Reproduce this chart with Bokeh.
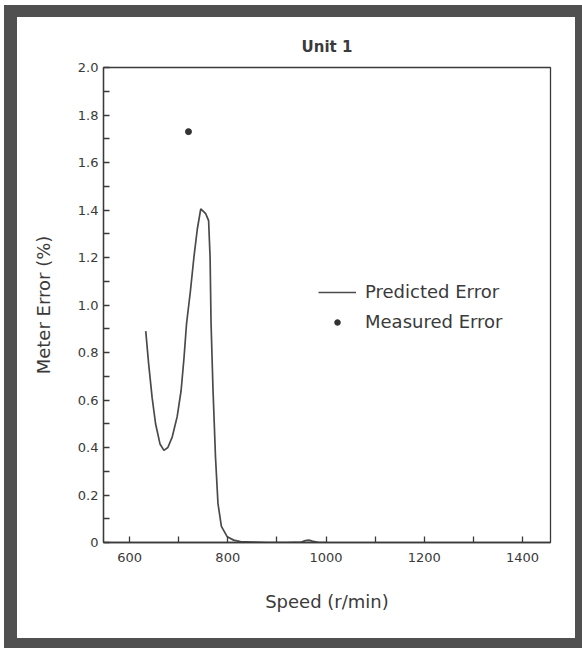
from bokeh.plotting import figure
from bokeh.models import Range1d, FixedTicker, Legend, LegendItem
from bokeh.embed import file_html
from bokeh.resources import INLINE

# ---- data ----
speed = [633, 639, 646, 653, 662, 670, 678, 687, 697, 705, 711, 716, 724, 731,
         738, 745, 755, 761, 764, 766, 770, 775, 780, 787, 799, 812, 826, 850,
         880, 920, 950, 958, 965, 972, 985, 1000]
predicted = [0.89, 0.75, 0.61, 0.50, 0.415, 0.388, 0.40, 0.445, 0.53, 0.64, 0.78,
             0.92, 1.06, 1.20, 1.32, 1.405, 1.385, 1.355, 1.20, 0.92, 0.64, 0.36,
             0.165, 0.068, 0.024, 0.010, 0.004, 0.002, 0.0, 0.0, 0.002, 0.008,
             0.010, 0.006, 0.0, 0.0]
measured_speed = [720]
measured_error = [1.73]

x_major = [600, 800, 1000, 1200, 1400]
x_minor = [700, 900, 1100, 1300]
y_major = [0.0, 0.2, 0.4, 0.6, 0.8, 1.0, 1.2, 1.4, 1.6, 1.8, 2.0]
y_minor = [0.1, 0.3, 0.5, 0.7, 0.9, 1.1, 1.3, 1.5, 1.7, 1.9]

title_text = "Unit 1"
x_label = "Speed (r/min)"
y_label = "Meter Error (%)"
series_names = ["Predicted Error", "Measured Error"]

FONT = "DejaVu Sans"
INK = "#3a3a3a"

p = figure(width=558, height=621, output_backend="svg", toolbar_location=None,
           x_range=Range1d(547, 1457), y_range=Range1d(0, 2.0),
           min_border_left=86, min_border_right=45, min_border_top=50,
           min_border_bottom=118, title=title_text)
p.styles = {"box-sizing": "content-box",
            "border-style": "solid", "border-color": "#505050",
            "border-width": "12px 7px 10px 13px",
            "margin-left": "4px", "margin-top": "5px"}
p.background_fill_color = "white"
p.border_fill_color = "white"
p.xgrid.visible = False
p.ygrid.visible = False
p.outline_line_color = INK
p.outline_line_width = 1.3

p.title.align = "center"
p.title.text_font = FONT
p.title.text_font_size = "15px"
p.title.text_font_style = "bold"
p.title.text_color = INK
p.title.standoff = 24

line = p.line(speed, predicted, line_color="#4a4a4a", line_width=1.7)
dots = p.scatter(measured_speed, measured_error, size=6, color="#333333")

for ax in (p.xaxis[0], p.yaxis[0]):
    ax.axis_line_color = INK
    ax.axis_line_width = 1.3
    ax.major_tick_line_color = INK
    ax.minor_tick_line_color = INK
    ax.major_tick_line_width = 1.3
    ax.minor_tick_line_width = 1.3
    ax.major_tick_in = 6
    ax.major_tick_out = 0
    ax.minor_tick_in = 6
    ax.minor_tick_out = 0
    ax.major_label_text_font = FONT
    ax.major_label_text_font_size = "13px"
    ax.major_label_text_color = INK
    ax.axis_label_text_font = FONT
    ax.axis_label_text_font_size = "18px"
    ax.axis_label_text_font_style = "normal"
    ax.axis_label_text_color = INK

p.xaxis.ticker = FixedTicker(ticks=x_major, minor_ticks=x_minor)
p.yaxis.ticker = FixedTicker(ticks=y_major, minor_ticks=y_minor)
p.yaxis.major_label_overrides = {v: ("0" if v == 0 else f"{v:.1f}") for v in y_major}
p.xaxis.axis_label = x_label
p.yaxis.axis_label = y_label
p.xaxis.major_label_standoff = 10
p.yaxis.major_label_standoff = 5
p.xaxis.axis_label_standoff = 26
p.yaxis.axis_label_standoff = 21

legend = Legend(items=[LegendItem(label=series_names[0], renderers=[line]),
                       LegendItem(label=series_names[1], renderers=[dots])],
                location=(215, 210), orientation="vertical",
                glyph_width=38, glyph_height=14, label_height=20,
                label_standoff=9, spacing=9, padding=0, margin=0,
                border_line_color=None, background_fill_alpha=0,
                label_text_font=FONT, label_text_font_size="18px",
                label_text_color=INK)
p.add_layout(legend)

open("out.html", "w").write(file_html(p, INLINE))
